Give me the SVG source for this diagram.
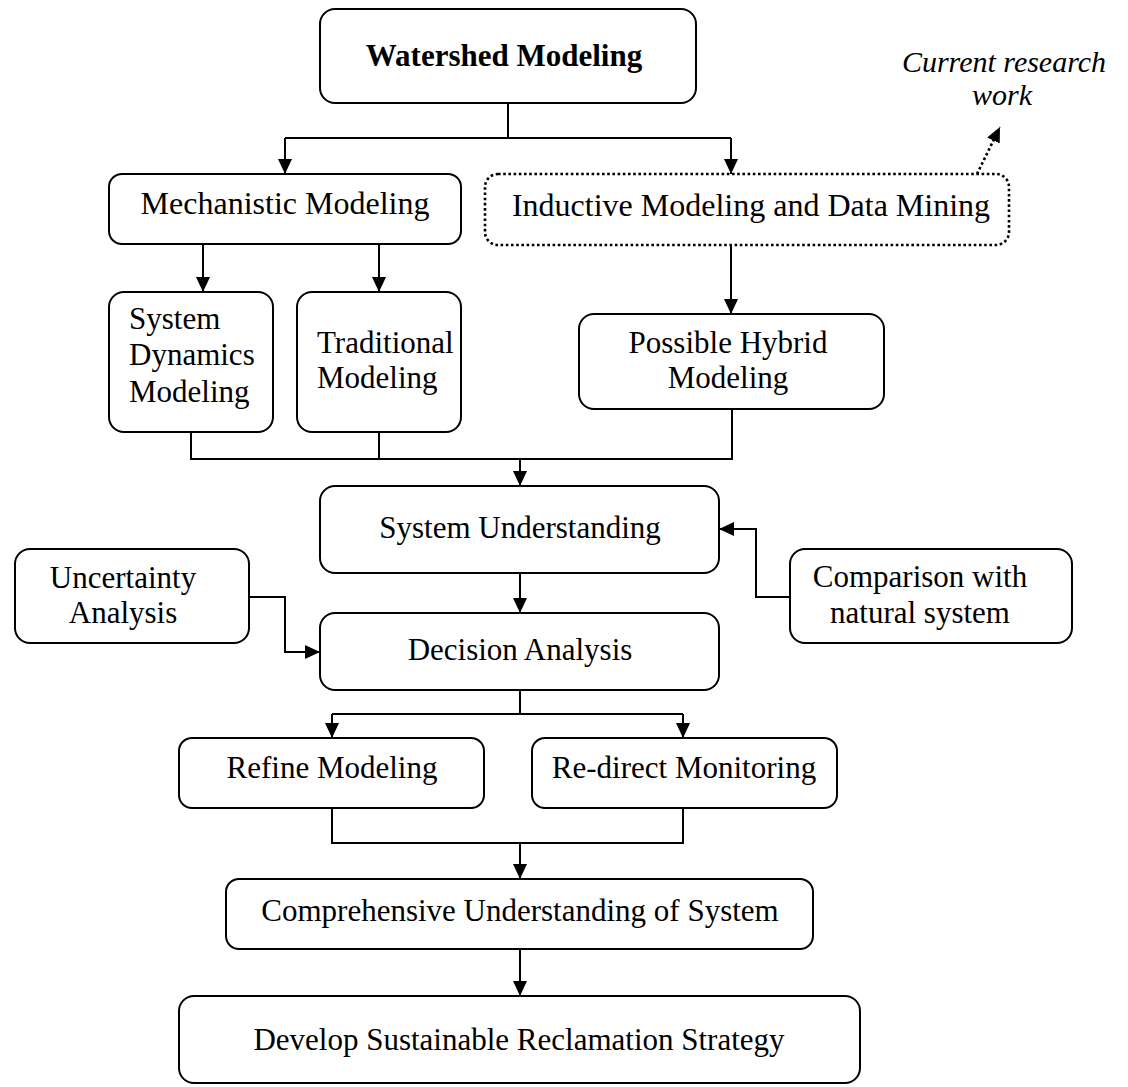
<svg xmlns="http://www.w3.org/2000/svg" width="1128" height="1087" viewBox="0 0 1128 1087">
<style>
  .box { fill: #ffffff; stroke: #000000; stroke-width: 2; }
  .dotbox { fill: #ffffff; stroke: #000000; stroke-width: 2.6; stroke-dasharray: 2.6 2.6; }
  .t { font-family: "Liberation Serif", "Times New Roman", serif; font-size: 31px; fill: #000000; }
  .c { text-anchor: middle; }
  .b { font-weight: bold; }
  .i { font-style: italic; font-size: 30px; }
  .ln { fill: none; stroke: #000000; stroke-width: 2; }
  .arr { marker-end: url(#ah); }
  .dot { fill: none; stroke: #000000; stroke-width: 2.6; stroke-dasharray: 2.6 2.6; }
</style>
<defs>
  <marker id="ah" markerUnits="userSpaceOnUse" markerWidth="16" markerHeight="16" refX="15" refY="7" orient="auto">
    <path d="M0,0 L15,7 L0,14 Z" fill="#000000" stroke="none"/>
  </marker>
</defs>
<rect width="1128" height="1087" fill="#ffffff"/>

<g id="connectors">
  <path class="ln" d="M508,103 V138 M285,138 H731"/>
  <path class="ln arr" d="M285,138 V174"/>
  <path class="ln arr" d="M731,138 V174"/>
  <path class="ln arr" d="M203,244 V292"/>
  <path class="ln arr" d="M379,244 V292"/>
  <path class="ln arr" d="M731,245 V314"/>
  <path class="ln" d="M191,432 V459 H732 V409 M379,432 V459"/>
  <path class="ln arr" d="M520,459 V486"/>
  <path class="ln arr" d="M520,573 V613"/>
  <path class="ln arr" d="M249,597 H285 V652 H320"/>
  <path class="ln arr" d="M790,597 H756 V529 H719"/>
  <path class="ln" d="M520,690 V714 M332,714 H683"/>
  <path class="ln arr" d="M332,714 V738"/>
  <path class="ln arr" d="M683,714 V738"/>
  <path class="ln" d="M332,808 V843 H683 V808"/>
  <path class="ln arr" d="M520,843 V879"/>
  <path class="ln arr" d="M520,949 V996"/>
  <path class="dot arr" d="M977,174 L1000,127"/>
</g>

<g id="watershed">
  <rect class="box" x="320" y="9" width="376" height="94" rx="15"/>
  <text class="t c b" x="504" y="66">Watershed Modeling</text>
</g>

<g id="current-research">
  <text class="t c i" x="1004" y="72">Current research</text>
  <text class="t c i" x="1002" y="105">work</text>
</g>

<g id="mechanistic">
  <rect class="box" x="109" y="174" width="352" height="70" rx="13"/>
  <text class="t c" x="285" y="214" style="font-size:32px">Mechanistic Modeling</text>
</g>

<g id="inductive">
  <rect class="dotbox" x="485" y="174" width="524" height="71" rx="13"/>
  <text class="t c" x="751" y="216" style="font-size:32px">Inductive Modeling and Data Mining</text>
</g>

<g id="system-dynamics">
  <rect class="box" x="109" y="292" width="164" height="140" rx="15"/>
  <text class="t" x="129" y="329">System</text>
  <text class="t" x="129" y="365">Dynamics</text>
  <text class="t" x="129" y="402">Modeling</text>
</g>

<g id="traditional">
  <rect class="box" x="297" y="292" width="164" height="140" rx="15"/>
  <text class="t" x="317" y="353">Traditional</text>
  <text class="t" x="317" y="388">Modeling</text>
</g>

<g id="hybrid">
  <rect class="box" x="579" y="314" width="305" height="95" rx="15"/>
  <text class="t c" x="728" y="353">Possible Hybrid</text>
  <text class="t c" x="728" y="388">Modeling</text>
</g>

<g id="system-understanding">
  <rect class="box" x="320" y="486" width="399" height="87" rx="15"/>
  <text class="t c" x="520" y="538">System Understanding</text>
</g>

<g id="uncertainty">
  <rect class="box" x="15" y="549" width="234" height="94" rx="15"/>
  <text class="t c" x="123" y="588">Uncertainty</text>
  <text class="t c" x="123" y="623">Analysis</text>
</g>

<g id="comparison">
  <rect class="box" x="790" y="549" width="282" height="94" rx="15"/>
  <text class="t c" x="920" y="587">Comparison with</text>
  <text class="t c" x="920" y="623">natural system</text>
</g>

<g id="decision">
  <rect class="box" x="320" y="613" width="399" height="77" rx="15"/>
  <text class="t c" x="520" y="660">Decision Analysis</text>
</g>

<g id="refine">
  <rect class="box" x="179" y="738" width="305" height="70" rx="13"/>
  <text class="t c" x="332" y="778">Refine Modeling</text>
</g>

<g id="redirect">
  <rect class="box" x="532" y="738" width="305" height="70" rx="13"/>
  <text class="t c" x="684" y="778">Re-direct Monitoring</text>
</g>

<g id="comprehensive">
  <rect class="box" x="226" y="879" width="587" height="70" rx="13"/>
  <text class="t c" x="520" y="921">Comprehensive Understanding of System</text>
</g>

<g id="develop">
  <rect class="box" x="179" y="996" width="681" height="87" rx="15"/>
  <text class="t c" x="519" y="1050">Develop Sustainable Reclamation Strategy</text>
</g>
</svg>
